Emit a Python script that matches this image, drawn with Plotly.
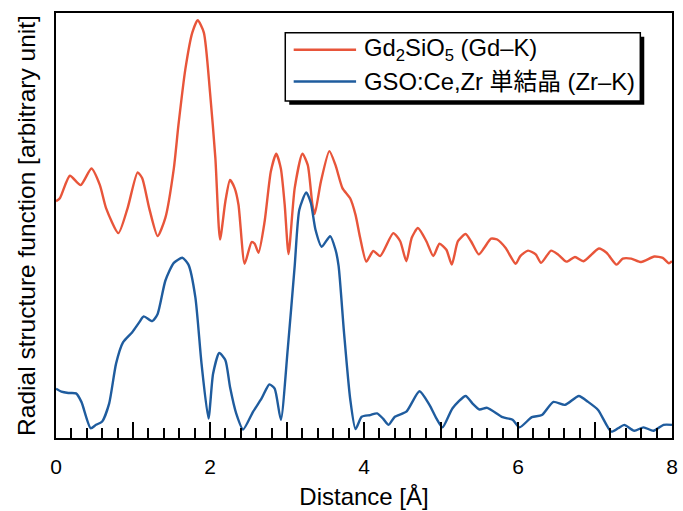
import plotly.graph_objects as go

# Radial structure functions (distance in Å, intensity in arbitrary units)
gd_distance = [0.00, 0.05, 0.18, 0.32, 0.46, 0.57, 0.65, 0.81, 0.93, 1.06, 1.12, 1.21, 1.32, 1.42,
               1.53, 1.59, 1.68, 1.77, 1.84, 1.92, 2.00, 2.07, 2.13, 2.20, 2.26, 2.32, 2.37, 2.45,
               2.54, 2.58, 2.63, 2.71, 2.79, 2.86, 2.92, 2.97, 3.02, 3.10, 3.20, 3.27, 3.33, 3.36,
               3.44, 3.55, 3.63, 3.72, 3.82, 3.89, 3.95, 4.03, 4.12, 4.21, 4.38, 4.47, 4.55, 4.62,
               4.70, 4.81, 4.90, 4.98, 5.07, 5.14, 5.22, 5.32, 5.39, 5.49, 5.56, 5.65, 5.73, 5.84,
               5.97, 6.03, 6.13, 6.23, 6.30, 6.43, 6.52, 6.63, 6.74, 6.85, 7.05, 7.15, 7.28, 7.36,
               7.47, 7.60, 7.77, 7.88, 7.96, 8.00]
gd_rsf = [55.7, 56.4, 61.7, 59.5, 63.4, 59.5, 54.1, 48.2, 54.1, 62.5, 61.1, 54.1, 47.5, 51.8,
          63.4, 73.6, 86.8, 95.4, 98.3, 95.4, 81.4, 65.8, 46.7, 55.7, 60.7, 58.8, 54.9, 41.0,
          46.1, 45.7, 43.6, 51.0, 62.7, 66.9, 63.4, 54.9, 43.3, 58.8, 66.9, 64.2, 54.9, 52.7,
          60.3, 67.5, 64.2, 58.8, 56.4, 52.5, 47.1, 41.5, 44.0, 42.8, 48.2, 46.3, 41.6, 47.1,
          49.4, 46.3, 42.8, 45.7, 44.3, 40.8, 46.3, 48.0, 46.3, 43.2, 44.7, 46.9, 46.7, 44.7,
          41.0, 42.8, 44.1, 43.2, 41.2, 44.1, 43.2, 41.5, 42.6, 41.6, 44.6, 43.6, 40.8, 42.2,
          42.2, 41.4, 42.7, 42.4, 41.1, 41.6]

zr_distance = [0.00, 0.07, 0.16, 0.26, 0.33, 0.45, 0.52, 0.60, 0.69, 0.78, 0.87, 0.99, 1.08, 1.14,
               1.25, 1.32, 1.42, 1.53, 1.64, 1.72, 1.81, 1.89, 1.98, 2.04, 2.12, 2.20, 2.26, 2.34,
               2.43, 2.56, 2.67, 2.77, 2.84, 2.92, 3.01, 3.10, 3.16, 3.25, 3.31, 3.37, 3.45, 3.56,
               3.63, 3.67, 3.74, 3.82, 3.89, 3.97, 4.08, 4.17, 4.25, 4.32, 4.40, 4.55, 4.72, 4.85,
               4.94, 5.02, 5.15, 5.32, 5.41, 5.50, 5.60, 5.80, 5.93, 6.02, 6.18, 6.31, 6.46, 6.61,
               6.79, 6.91, 7.04, 7.21, 7.30, 7.38, 7.51, 7.63, 7.76, 7.89, 8.00]
zr_rsf = [11.6, 10.9, 10.6, 10.5, 8.5, 2.3, 3.1, 3.9, 8.1, 17.5, 22.5, 24.9, 27.2, 28.6,
          27.5, 29.2, 37.0, 41.2, 42.4, 40.8, 33.1, 17.5, 4.6, 15.1, 20.0, 18.3, 12.0, 5.8,
          2.0, 6.2, 9.3, 12.6, 11.6, 4.3, 21.0, 40.5, 53.7, 57.8, 55.3, 49.0, 45.0, 47.5,
          44.3, 40.5, 24.9, 9.3, 2.1, 5.0, 5.4, 5.8, 4.5, 3.1, 5.0, 6.2, 11.0, 7.8,
          4.6, 2.5, 7.0, 9.9, 8.1, 6.7, 7.1, 4.9, 4.3, 2.5, 4.9, 5.4, 8.5, 7.8,
          9.9, 8.5, 6.6, 1.5, 2.3, 3.1, 1.7, 2.5, 1.7, 3.1, 3.1]

series_names = ["Gd<sub>2</sub>SiO<sub>5</sub> (Gd–K)", "GSO:Ce,Zr 単結晶 (Zr–K)"]
series_colors = ["#E8553A", "#1F5C9E"]

x_tick_values = [0, 1, 2, 3, 4, 5, 6, 7, 8]
x_tick_labels = ["0", "", "2", "", "4", "", "6", "", "8"]

FONT = "Liberation Sans, Arial, Noto Sans CJK JP, sans-serif"

W, H = 683, 511
L, R, T, B = 56, 5, 13, 70
plot_w, plot_h = W - L - R, H - T - B


def px_x(px):
    return (px - L) / plot_w


def px_y(py):
    return (H - B - py) / plot_h


fig = go.Figure()
for xs, ys, name, color in [(gd_distance, gd_rsf, series_names[0], series_colors[0]),
                            (zr_distance, zr_rsf, series_names[1], series_colors[1])]:
    fig.add_trace(go.Scatter(
        x=xs, y=ys, name=name, mode="lines",
        line=dict(color=color, width=2.4, shape="spline", smoothing=0.6),
        showlegend=False,
    ))

# Legend box with an offset drop shadow
fig.add_shape(type="rect", xref="paper", yref="paper",
              x0=px_x(291.5), x1=px_x(650), y0=px_y(105.5), y1=px_y(37),
              fillcolor="black", line=dict(width=0), layer="above")
fig.add_shape(type="rect", xref="paper", yref="paper",
              x0=px_x(287.5), x1=px_x(646), y0=px_y(101.5), y1=px_y(33),
              fillcolor="white", line=dict(color="black", width=1.5), layer="above")
for row_y, name, color in [(50, series_names[0], series_colors[0]),
                           (82, series_names[1], series_colors[1])]:
    fig.add_shape(type="line", xref="paper", yref="paper",
                  x0=px_x(296), x1=px_x(359), y0=px_y(row_y), y1=px_y(row_y),
                  line=dict(color=color, width=2.4), layer="above")
    fig.add_annotation(xref="paper", yref="paper", x=px_x(365), y=px_y(row_y),
                       text=name, showarrow=False, xanchor="left", yanchor="middle",
                       font=dict(family=FONT, size=23.8, color="black"))

fig.update_layout(
    width=W, height=H,
    margin=dict(l=L, r=R, t=T, b=B, pad=0),
    paper_bgcolor="white", plot_bgcolor="white",
    font=dict(family=FONT, color="black"),
    xaxis=dict(
        range=[0, 8], showgrid=False, zeroline=False,
        showline=True, linecolor="black", linewidth=2, mirror=True,
        tickmode="array", tickvals=x_tick_values, ticktext=x_tick_labels,
        ticks="inside", ticklen=16, tickwidth=1.5, tickcolor="black",
        minor=dict(dtick=0.2, ticks="inside", ticklen=10, tickwidth=1.5, tickcolor="black"),
        tickfont=dict(size=21), ticklabelstandoff=9,
        title=dict(text="Distance [Å]", font=dict(size=24), standoff=11),
    ),
    yaxis=dict(
        range=[0, 100], showgrid=False, zeroline=False,
        showline=True, linecolor="black", linewidth=2, mirror=True,
        showticklabels=False, ticks="",
        title=dict(text="Radial structure function [arbitrary unit]", font=dict(size=24.5), standoff=11),
    ),
)

fig.write_html("out.html")
